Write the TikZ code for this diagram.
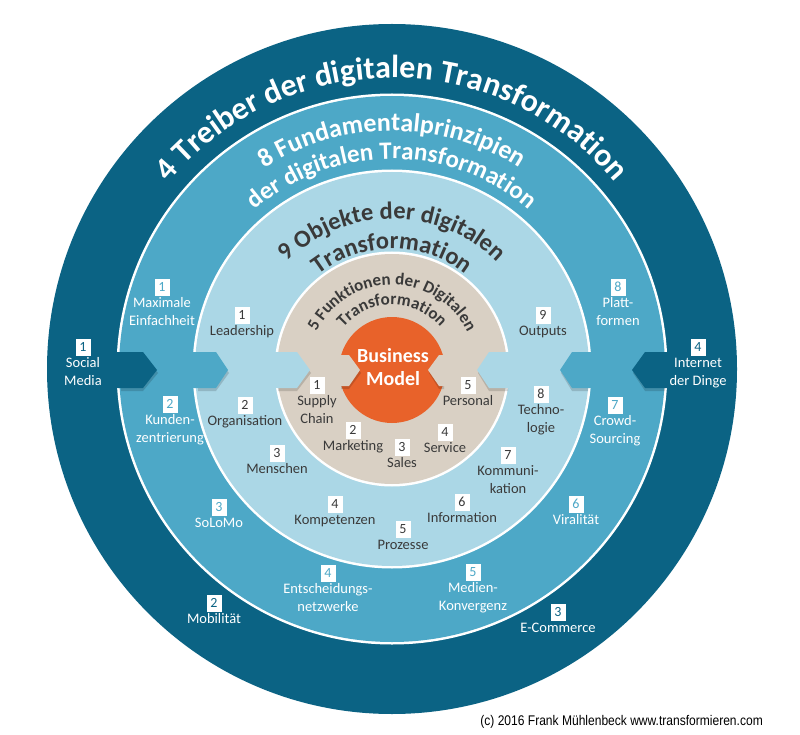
\documentclass[tikz,border=0pt]{standalone}
\usepackage{fontspec}
\setmainfont{Carlito}
\newfontfamily\arialf{Liberation Sans}
\usetikzlibrary{decorations.text}
\definecolor{cdark}{HTML}{0B6384}
\definecolor{cmed}{HTML}{4DA8C7}
\definecolor{clight}{HTML}{ABD7E6}
\definecolor{cbeige}{HTML}{D9D0C4}
\definecolor{corange}{HTML}{E8622A}
\definecolor{cgray}{HTML}{3A3A3A}
\tikzset{
  nbox/.style={fill=white,minimum width=15pt,minimum height=17pt,inner sep=0pt,font=\fontsize{14}{16}\selectfont},
  lbl/.style={inner sep=0pt,align=center,anchor=north,font=\fontsize{14.5}{18}\selectfont},
  shad/.style={fill=black,opacity=0.15},
  arctext/.style={decorate,decoration={text along path,text align=center,text={#1}}}
}
\newcommand{\itm}[7]{%
  \node[nbox,text=#6] (n#1) at (#2,#3) {#4};
  \node[lbl,text=#7] (t#1) at (#2,#3+10.5) {#5};}
\begin{document}
\begin{tikzpicture}[x=1pt,y=-1pt]
\useasboundingbox (0,0) rectangle (800,735);
\fill[white] (0,0) rectangle (800,735);
% rings
\fill[cdark] (392,369) circle[radius=345pt];
\fill[white] (392,369) circle[radius=275.5pt];
\fill[cmed] (392,369) circle[radius=273pt];
\fill[white] (392,369) circle[radius=199.5pt];
\fill[clight] (392,369) circle[radius=197pt];
\fill[white] (392,369) circle[radius=117.5pt];
\fill[cbeige] (392,369) circle[radius=115pt];
\fill[corange] (392,370) circle[radius=53pt];
% chevron shadows (only where they leave their ring)
\fill[shad] (121,355) -- (143,355) -- (158,373) -- (143,391) -- (121,391) -- cycle;
\fill[shad] (198,355) -- (216,355) -- (229,373) -- (216,391) -- (198,391) -- cycle;
\fill[shad] (278,355) -- (297,355) -- (311,373) -- (297,391) -- (278,391) -- cycle;
\fill[shad] (341,358) -- (349,358) -- (361,373) -- (349,389) -- (341,389) -- cycle;
\fill[shad] (665,355) -- (645,355) -- (633,373) -- (645,391) -- (665,391) -- cycle;
\fill[shad] (588,355) -- (572,355) -- (561,373) -- (572,391) -- (588,391) -- cycle;
\fill[shad] (508,355) -- (489,355) -- (478,373) -- (489,391) -- (508,391) -- cycle;
\fill[shad] (444,358) -- (439,358) -- (429,373) -- (439,389) -- (444,389) -- cycle;
% chevrons left
\fill[cdark] (105,352) -- (143,352) -- (157,370) -- (143,388) -- (105,388) -- cycle;
\fill[cmed] (185,352) -- (216,352) -- (228,370) -- (216,388) -- (185,388) -- cycle;
\fill[clight] (265,352) -- (297,352) -- (310,370) -- (297,388) -- (265,388) -- cycle;
\fill[cbeige] (330,355) -- (349,355) -- (360,370) -- (349,386) -- (330,386) -- cycle;
% chevrons right
\fill[cdark] (680,352) -- (645,352) -- (632,370) -- (645,388) -- (680,388) -- cycle;
\fill[cmed] (600,352) -- (572,352) -- (560,370) -- (572,388) -- (600,388) -- cycle;
\fill[clight] (520,352) -- (489,352) -- (477,370) -- (489,388) -- (520,388) -- cycle;
\fill[cbeige] (455,355) -- (439,355) -- (428,370) -- (439,386) -- (455,386) -- cycle;
% titles along arcs
\begin{scope}[shift={(392,369)}]
\path[arctext={|\color{white}\bfseries\fontsize{32}{33}\selectfont|4 Treiber der digitalen Transformation}] (178:291pt) arc[start angle=178,end angle=2,radius=291pt];
\path[arctext={|\color{white}\bfseries\fontsize{26}{27}\selectfont|8 Fundamentalprinzipien}] (178:238pt) arc[start angle=178,end angle=2,radius=238pt];
\path[arctext={|\color{white}\bfseries\fontsize{25}{26}\selectfont|der digitalen Transformation}] (178:210pt) arc[start angle=178,end angle=2,radius=210pt];
\path[arctext={|\color{cgray}\bfseries\fontsize{24.5}{26}\selectfont|9 Objekte der digitalen}] (178:150pt) arc[start angle=178,end angle=2,radius=150pt];
\path[arctext={|\color{cgray}\bfseries\fontsize{24.5}{26}\selectfont|Transformation}] (178:120pt) arc[start angle=178,end angle=2,radius=120pt];
\path[arctext={|\color{cgray}\bfseries\fontsize{17}{18}\selectfont|5 Funktionen der Digitalen}] (178:84pt) arc[start angle=178,end angle=2,radius=84pt];
\path[arctext={|\color{cgray}\bfseries\fontsize{17}{18}\selectfont|Transformation}] (178:64pt) arc[start angle=178,end angle=2,radius=64pt];
\end{scope}
\node[font=\bfseries\fontsize{20}{23}\selectfont,text=white,align=center] (bm) at (393,367) {Business\\Model};
% ring 1
\itm{a1}{83}{347}{1}{Social\\Media}{cdark}{white}
\itm{a4}{698}{347}{4}{Internet\\der Dinge}{cdark}{white}
\itm{a2}{214}{603}{2}{Mobilität}{cdark}{white}
\itm{a3}{558}{612}{3}{E-Commerce}{cdark}{white}
% ring 2
\itm{b1}{162}{287}{1}{Maximale\\Einfachheit}{cmed}{white}
\itm{b2}{170}{404}{2}{Kunden-\\zentrierung}{cmed}{white}
\itm{b3}{219}{507}{3}{SoLoMo}{cmed}{white}
\itm{b4}{328}{573}{4}{Entscheidungs-\\netzwerke}{cmed}{white}
\itm{b5}{473}{572}{5}{Medien-\\Konvergenz}{cmed}{white}
\itm{b6}{576}{504}{6}{Viralität}{cmed}{white}
\itm{b7}{615}{405}{7}{Crowd-\\Sourcing}{cmed}{white}
\itm{b8}{618}{287}{8}{Platt-\\formen}{cmed}{white}
% ring 3
\itm{c1}{242}{315}{1}{Leadership}{cgray}{cgray}
\itm{c2}{245}{405}{2}{Organisation}{cgray}{cgray}
\itm{c3}{277}{453}{3}{Menschen}{cgray}{cgray}
\itm{c4}{335}{504}{4}{Kompetenzen}{cgray}{cgray}
\itm{c5}{403}{529}{5}{Prozesse}{cgray}{cgray}
\itm{c6}{462}{502}{6}{Information}{cgray}{cgray}
\itm{c7}{508}{455}{7}{Kommuni-\\kation}{cgray}{cgray}
\itm{c8}{541}{394}{8}{Techno-\\logie}{cgray}{cgray}
\itm{c9}{543}{315}{9}{Outputs}{cgray}{cgray}
% ring 4
\itm{d1}{317}{385}{1}{Supply\\Chain}{cgray}{cgray}
\itm{d2}{353}{430}{2}{Marketing}{cgray}{cgray}
\itm{d3}{402}{447}{3}{Sales}{cgray}{cgray}
\itm{d4}{445}{432}{4}{Service}{cgray}{cgray}
\itm{d5}{468}{385}{5}{Personal}{cgray}{cgray}
% copyright
\node[anchor=east,inner sep=0pt,font=\arialf\fontsize{14}{16}\selectfont] (copy) at (763,722) {\scalebox{0.86}[1]{(c) 2016 Frank Mühlenbeck www.transformieren.com}};
\end{tikzpicture}
\end{document}
